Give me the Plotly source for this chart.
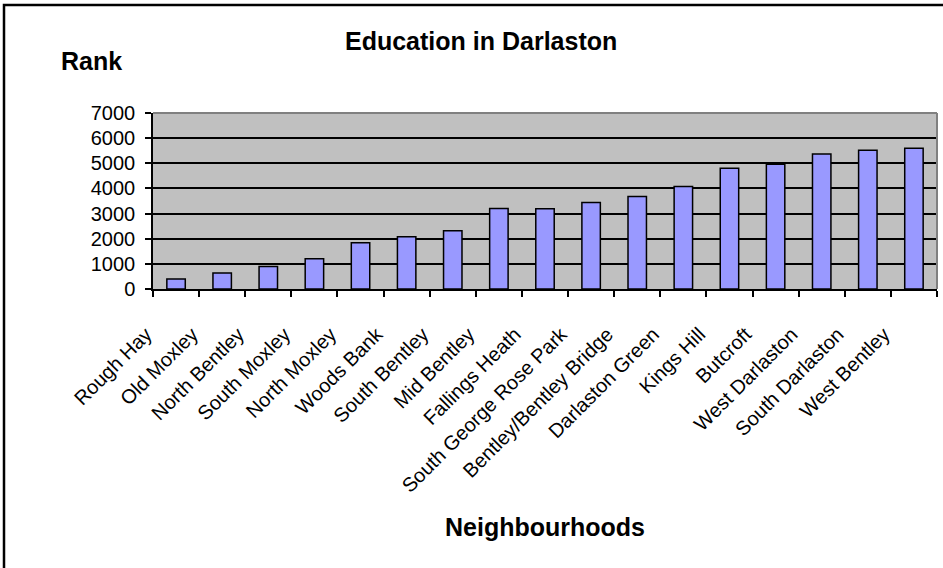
import plotly.graph_objects as go

neighbourhoods = ["Rough Hay", "Old Moxley", "North Bentley", "South Moxley", "North Moxley",
                  "Woods Bank", "South Bentley", "Mid Bentley", "Fallings Heath",
                  "South George Rose Park", "Bentley/Bentley Bridge", "Darlaston Green",
                  "Kings Hill", "Butcroft", "West Darlaston", "South Darlaston", "West Bentley"]
rank = [400, 640, 890, 1200, 1840, 2080, 2320, 3200, 3190, 3440, 3680, 4080,
        4800, 4960, 5370, 5520, 5600]
y_ticks = [0, 1000, 2000, 3000, 4000, 5000, 6000, 7000]

WIDTH, HEIGHT = 943, 568
L, R, T, B = 153, 6, 113, 279
PW = WIDTH - L - R
PH = HEIGHT - T - B
BOTTOM = HEIGHT - B

def px_x(p):
    return (p - L) / PW

def px_y(p):
    return (BOTTOM - p) / PH

FONT = "Arial, Liberation Sans, sans-serif"

fig = go.Figure(go.Bar(
    x=neighbourhoods, y=rank,
    marker=dict(color="#9999FF", line=dict(color="black", width=1.5)),
))

fig.update_layout(
    width=WIDTH, height=HEIGHT,
    margin=dict(l=L, r=R, t=T, b=B, autoexpand=False),
    paper_bgcolor="white", plot_bgcolor="#C0C0C0",
    bargap=0.6, showlegend=False,
    font=dict(family=FONT, color="black"),
    xaxis=dict(
        showline=True, linecolor="black", linewidth=1.5,
        ticks="outside", ticklen=6, tickcolor="black", tickwidth=1.5,
        tickson="boundaries", tickangle=-45,
        tickfont=dict(size=20, family=FONT, color="black"),
        ticklabelstandoff=24, ticklabelshift=-30,
        showgrid=False,
    ),
    yaxis=dict(
        range=[0, 7000], tickvals=y_ticks,
        showline=True, linecolor="black", linewidth=1.5,
        ticks="outside", ticklen=6, tickcolor="black", tickwidth=1.5,
        tickfont=dict(size=20, family=FONT, color="black"),
        ticklabelstandoff=6,
        showgrid=True, gridcolor="black", gridwidth=1.5,
        zeroline=False,
    ),
    shapes=[
        dict(type="line", xref="paper", yref="paper", x0=0, x1=1, y0=1, y1=1,
             line=dict(color="#808080", width=2), layer="above"),
        dict(type="line", xref="paper", yref="paper", x0=1, x1=1, y0=0, y1=1,
             line=dict(color="#808080", width=2), layer="above"),
        dict(type="rect", xref="paper", yref="paper",
             x0=px_x(4), x1=px_x(960), y0=px_y(585), y1=px_y(5),
             line=dict(color="black", width=2.5), layer="above"),
    ],
    annotations=[
        dict(text="<b>Education in Darlaston</b>", xref="paper", yref="paper",
             x=px_x(481), y=px_y(41), xanchor="center", yanchor="middle",
             showarrow=False, font=dict(size=25, family=FONT, color="black")),
        dict(text="<b>Rank</b>", xref="paper", yref="paper",
             x=px_x(59), y=px_y(61), xanchor="left", yanchor="middle",
             showarrow=False, font=dict(size=25, family=FONT, color="black")),
        dict(text="<b>Neighbourhoods</b>", xref="paper", yref="paper",
             x=px_x(545), y=px_y(527), xanchor="center", yanchor="middle",
             showarrow=False, font=dict(size=25, family=FONT, color="black")),
    ],
)

fig.write_html("out.html", config={"displayModeBar": False},
               post_script="document.body.style.margin='0';")
